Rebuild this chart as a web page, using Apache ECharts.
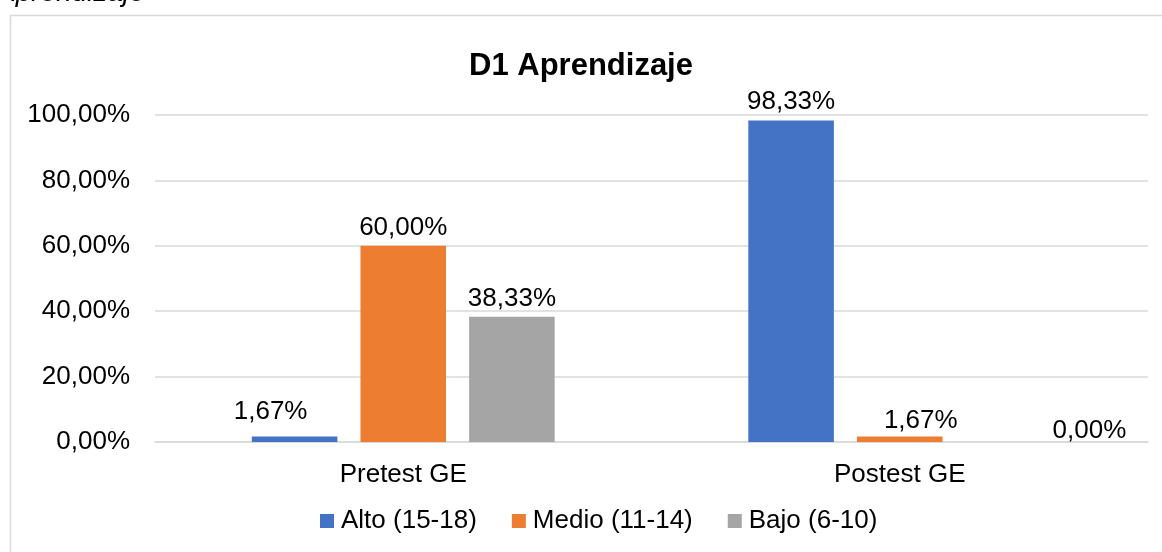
<!DOCTYPE html>
<html>
<head>
<meta charset="utf-8">
<script src="https://cdn.jsdelivr.net/npm/echarts@6/dist/echarts.min.js"></script>
<style>
  html, body { margin: 0; padding: 0; background: #fff; }
  #chart { width: 1162px; height: 552px; }
</style>
</head>
<body>
<div id="chart"></div>
<script>
const categories = ['Pretest GE', 'Postest GE']
const seriesNames = ['Alto (15-18)', 'Medio (11-14)', 'Bajo (6-10)']
const alto = [1.67, 98.33]
const medio = [60.00, 1.67]
const bajo = [38.33, 0.00]
const yTicks = [0, 20, 40, 60, 80, 100]

const colors = ['#4472C4', '#ED7D31', '#A5A5A5']
const font = 'Arial, "Liberation Sans", sans-serif'

function pct(v) {
  return v.toFixed(2).replace('.', ',') + '%'
}

// Excel nudged a few labels sideways, copy that
const labelOffsets = {
  'Alto (15-18)': [[-24, -7], [0, -1]],
  'Medio (11-14)': [[0, 0], [21, 2]],
  'Bajo (6-10)': [[0, 0], [81, 7]]
}

function makeSeries(name, values, color) {
  return {
    name: name,
    type: 'bar',
    barGap: '27%',
    barCategoryGap: '39%',
    itemStyle: { color: color },
    data: values.map((v, i) => ({
      value: v,
      label: { offset: labelOffsets[name][i] }
    })),
    label: {
      show: true,
      position: 'top',
      distance: 5,
      color: '#000',
      fontFamily: font,
      fontSize: 26,
      formatter: p => pct(p.value)
    }
  }
}

const chart = echarts.init(document.getElementById('chart'))
chart.setOption({
  animation: false,
  backgroundColor: '#fff',
  graphic: [
    {
      type: 'rect',
      left: 8, top: 13,
      shape: { width: 1170, height: 560 },
      style: { fill: 'none', stroke: '#d9d9d9', lineWidth: 1.5 },
      z: -1
    },
    {
      type: 'text',
      left: -3, top: -21,
      style: {
        text: 'Aprendizaje',
        font: 'italic 28px Arial, "Liberation Sans", sans-serif',
        fill: '#000'
      }
    }
  ],
  title: {
    text: 'D1 Aprendizaje',
    left: 'center',
    top: 46,
    textStyle: { fontFamily: font, fontSize: 31, fontWeight: 'bold', color: '#000' }
  },
  legend: {
    bottom: 13,
    left: 315,
    icon: 'rect',
    itemWidth: 14,
    itemHeight: 14,
    itemGap: 35,
    textStyle: { fontFamily: font, fontSize: 26, color: '#000', padding: [0, 0, 0, 2] },
    data: seriesNames
  },
  grid: { left: 155, right: 14, top: 115, bottom: 110 },
  xAxis: {
    type: 'category',
    data: categories,
    axisLine: { lineStyle: { color: '#d9d9d9', width: 1.5 } },
    axisTick: { show: false },
    axisLabel: { color: '#000', fontFamily: font, fontSize: 26, margin: 20 }
  },
  yAxis: {
    type: 'value',
    min: yTicks[0],
    max: yTicks[yTicks.length - 1],
    interval: 20,
    axisLine: { show: false },
    axisTick: { show: false },
    splitLine: { lineStyle: { color: '#d9d9d9', width: 1.5 } },
    axisLabel: {
      color: '#000', fontFamily: font, fontSize: 26, margin: 25,
      formatter: v => pct(v)
    }
  },
  series: [
    makeSeries(seriesNames[0], alto, colors[0]),
    makeSeries(seriesNames[1], medio, colors[1]),
    makeSeries(seriesNames[2], bajo, colors[2])
  ]
})
</script>
</body>
</html>
